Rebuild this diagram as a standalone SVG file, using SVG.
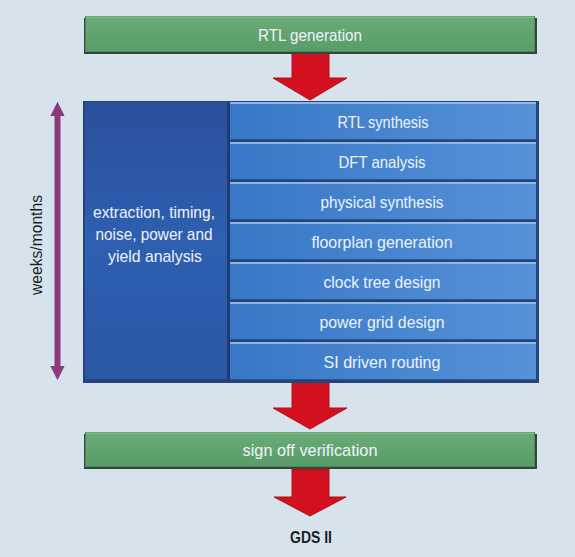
<svg xmlns="http://www.w3.org/2000/svg" width="575" height="557" viewBox="0 0 575 557">
<defs>
<linearGradient id="gGreen" x1="0" y1="0" x2="0" y2="1">
<stop offset="0" stop-color="#6aab77"/><stop offset="1" stop-color="#5a9c68"/>
</linearGradient>
<linearGradient id="gDark" x1="0" y1="0" x2="0" y2="1">
<stop offset="0" stop-color="#2a4f9c"/><stop offset="0.5" stop-color="#2e5fb0"/><stop offset="1" stop-color="#2a57a6"/>
</linearGradient>
<linearGradient id="gRow" x1="0" y1="0" x2="1" y2="0">
<stop offset="0" stop-color="#3877c6"/><stop offset="1" stop-color="#5592d8"/>
</linearGradient>
<marker id="pArrow" viewBox="0 0 10 10" refX="5" refY="5" markerWidth="2.4" markerHeight="2.4" orient="auto-start-reverse" markerUnits="strokeWidth">
<path d="M0,0 L10,5 L0,10 z" fill="#8a3a7c"/>
</marker>
</defs>
<style>
.bg{fill:#d6e3ec}
.shadow{fill:#33453d}
.green{fill:url(#gGreen);stroke:#4d8a5b;stroke-width:1}
.row{fill:url(#gRow)}
.rowTop{stroke:#a9c9ee;stroke-width:1.5}
.rowBot{stroke:#22467f;stroke-width:1.5}
.arrow{fill:#d3101e;stroke:#b0101a;stroke-width:1}
.lbl{font-family:"Liberation Sans Narrow","Liberation Sans",Arial,sans-serif;font-size:17px;fill:#eef3f9;text-anchor:middle}
.dark{fill:#1e1e22}
</style>
<rect class="bg" x="0" y="0" width="575" height="557"/>

<g id="connectors">
<polygon class="arrow" points="292,53 329,53 329,78 347,78 310,100 273,78 292,78"/>
<polygon class="arrow" points="292,382 329,382 329,408 347,408 310,429 273,408 292,408"/>
<polygon class="arrow" points="292,469 329,469 329,497 346,497 310,516 274,497 292,497"/>
<line x1="57.5" y1="109" x2="57.5" y2="373" stroke="#8a3a7c" stroke-width="6" marker-start="url(#pArrow)" marker-end="url(#pArrow)"/>
</g>

<g id="rtl-generation">
<rect class="shadow" x="84" y="18" width="453" height="36"/>
<rect class="green" x="85.5" y="16.5" width="449" height="35"/>
<line x1="86" y1="17" x2="534" y2="17" stroke="#8cc597" stroke-width="1"/>
<text class="lbl" x="310" y="41" textLength="104" lengthAdjust="spacingAndGlyphs">RTL generation</text>
</g>

<g id="main-block">
<rect x="83" y="101" width="456" height="282" fill="#27437a"/>
<rect x="85" y="102" width="142" height="277" fill="url(#gDark)"/>
<rect x="227" y="102" width="3" height="279" fill="#1f3d74"/>
</g>

<g id="analysis">
<text class="lbl" x="154" y="218" textLength="122" lengthAdjust="spacingAndGlyphs">extraction, timing,</text>
<text class="lbl" x="154" y="240" textLength="117" lengthAdjust="spacingAndGlyphs">noise, power and</text>
<text class="lbl" x="155" y="262" textLength="94" lengthAdjust="spacingAndGlyphs">yield analysis</text>
</g>

<g id="rtl-synthesis">
<rect class="row" x="230" y="102" width="306" height="38"/>
<line class="rowTop" x1="230" y1="103" x2="536" y2="103"/><line class="rowBot" x1="230" y1="140" x2="536" y2="140"/>
<text class="lbl" x="383" y="128" textLength="91" lengthAdjust="spacingAndGlyphs">RTL synthesis</text>
</g>
<g id="dft-analysis">
<rect class="row" x="230" y="142" width="306" height="38"/>
<line class="rowTop" x1="230" y1="143" x2="536" y2="143"/><line class="rowBot" x1="230" y1="180" x2="536" y2="180"/>
<text class="lbl" x="382" y="168" textLength="87" lengthAdjust="spacingAndGlyphs">DFT analysis</text>
</g>
<g id="physical-synthesis">
<rect class="row" x="230" y="182" width="306" height="38"/>
<line class="rowTop" x1="230" y1="183" x2="536" y2="183"/><line class="rowBot" x1="230" y1="220" x2="536" y2="220"/>
<text class="lbl" x="382" y="208" textLength="123" lengthAdjust="spacingAndGlyphs">physical synthesis</text>
</g>
<g id="floorplan-generation">
<rect class="row" x="230" y="222" width="306" height="38"/>
<line class="rowTop" x1="230" y1="223" x2="536" y2="223"/><line class="rowBot" x1="230" y1="260" x2="536" y2="260"/>
<text class="lbl" x="382" y="248" textLength="141" lengthAdjust="spacingAndGlyphs">floorplan generation</text>
</g>
<g id="clock-tree-design">
<rect class="row" x="230" y="262" width="306" height="38"/>
<line class="rowTop" x1="230" y1="263" x2="536" y2="263"/><line class="rowBot" x1="230" y1="300" x2="536" y2="300"/>
<text class="lbl" x="382" y="288" textLength="117" lengthAdjust="spacingAndGlyphs">clock tree design</text>
</g>
<g id="power-grid-design">
<rect class="row" x="230" y="302" width="306" height="38"/>
<line class="rowTop" x1="230" y1="303" x2="536" y2="303"/><line class="rowBot" x1="230" y1="340" x2="536" y2="340"/>
<text class="lbl" x="382" y="328" textLength="125" lengthAdjust="spacingAndGlyphs">power grid design</text>
</g>
<g id="si-driven-routing">
<rect class="row" x="230" y="342" width="306" height="38"/>
<line class="rowTop" x1="230" y1="343" x2="536" y2="343"/><line class="rowBot" x1="230" y1="380" x2="536" y2="380"/>
<text class="lbl" x="382" y="368" textLength="117" lengthAdjust="spacingAndGlyphs">SI driven routing</text>
</g>

<g id="weeks-months">
<text class="lbl dark" transform="translate(42,245) rotate(-90)" x="0" y="0" font-size="15" textLength="100" lengthAdjust="spacingAndGlyphs">weeks/months</text>
</g>

<g id="sign-off-verification">
<rect class="shadow" x="84" y="434" width="453" height="35"/>
<rect class="green" x="85.5" y="432.5" width="449" height="34"/>
<line x1="86" y1="433" x2="534" y2="433" stroke="#8cc597" stroke-width="1"/>
<text class="lbl" x="310" y="456" textLength="135" lengthAdjust="spacingAndGlyphs">sign off verification</text>
</g>

<g id="gds-ii">
<text class="lbl dark" x="311" y="543" font-weight="bold" textLength="42" lengthAdjust="spacingAndGlyphs">GDS II</text>
</g>
</svg>
